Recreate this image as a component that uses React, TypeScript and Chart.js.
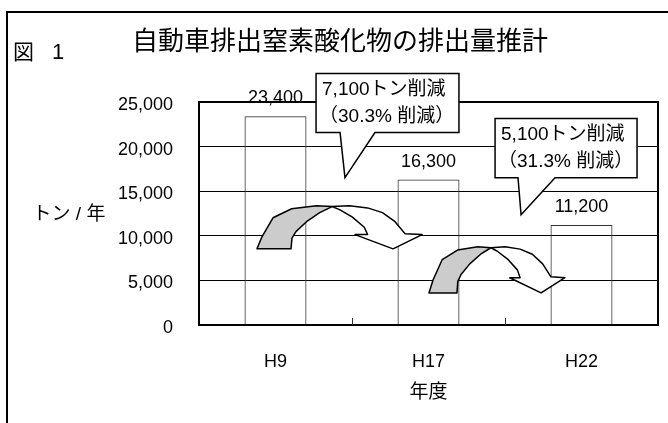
import React, { useEffect, useRef } from 'react';
import { Chart, registerables } from 'chart.js';

Chart.register(...registerables);

// ---- data ----
const categories: string[] = ['H9', 'H17', 'H22'];
const emissions: number[] = [23400, 16300, 11200];
const yMin = 0;
const yMax = 25000;
const yStep = 5000;
const chartTitle = '自動車排出窒素酸化物の排出量推計';
const figureLabel: string[] = ['図', '1'];
const yAxisTitle = 'トン / 年';
const xAxisTitle = '年度';
const reductionTexts: string[][] = [
  ['7,100トン削減', '（30.3% 削減）'],
  ['5,100トン削減', '（31.3% 削減）'],
];

// ---- annotation layout (category index / value space) ----
const calloutLayout = [
  { box: [0.265, 1.199, 28200, 21573], base: [0.422, 0.65], tip: [0.454, 16517] },
  { box: [1.435, 2.363, 23146, 16517], base: [1.585, 1.827], tip: [1.605, 12360] },
];
const arrowLayout = [
  { x: [-0.121, 0.958], y: [13371, 8539] },
  { x: [1.003, 1.892], y: [8764, 3596] },
];
const arrowBack: number[][] = [
  [0, 1], [0.03, 0.72], [0.097, 0.28], [0.21, 0.07], [0.36, 0], [0.455, 0.02],
  [0.38, 0.16], [0.3, 0.37], [0.236, 0.6], [0.212, 0.75], [0.206, 1],
];
const arrowFront: number[][] = [
  [0.455, 0.02], [0.56, 0], [0.67, 0.05], [0.76, 0.16], [0.836, 0.37], [0.897, 0.65],
  [1, 0.67], [0.824, 1], [0.594, 0.67], [0.67, 0.67], [0.65, 0.5], [0.576, 0.26], [0.5, 0.09],
];

const FONT = "'Liberation Sans', 'Noto Sans CJK JP', sans-serif";

const decorPlugin = {
  id: 'decor',
  afterDraw(chart: any) {
    const ctx: CanvasRenderingContext2D = chart.ctx;
    const xs = chart.scales.x;
    const ys = chart.scales.y;
    const ca = chart.chartArea;
    ctx.save();

    // outer frame
    ctx.strokeStyle = '#000';
    ctx.lineWidth = 2;
    ctx.beginPath();
    ctx.moveTo(7, chart.height);
    ctx.lineTo(7, 12);
    ctx.lineTo(chart.width, 12);
    ctx.stroke();

    // titles
    ctx.fillStyle = '#000';
    ctx.textBaseline = 'middle';
    ctx.textAlign = 'center';
    ctx.font = `26px ${FONT}`;
    ctx.fillText(chartTitle, 340, 43);
    ctx.textAlign = 'left';
    ctx.font = `21px ${FONT}`;
    ctx.fillText(figureLabel[0], 13, 53);
    ctx.font = `22px ${FONT}`;
    ctx.fillText(figureLabel[1], 52, 53);
    ctx.textAlign = 'center';
    ctx.font = `19px ${FONT}`;
    ctx.fillText(yAxisTitle, 69, 215);
    ctx.fillText(xAxisTitle, (ca.left + ca.right) / 2, 393);

    // plot top/right border
    ctx.lineWidth = 2;
    ctx.beginPath();
    ctx.moveTo(ca.left, ca.top);
    ctx.lineTo(ca.right, ca.top);
    ctx.lineTo(ca.right, ca.bottom);
    ctx.stroke();

    // category boundary ticks (inside)
    ctx.lineWidth = 1;
    ctx.strokeStyle = '#333';
    for (let i = 1; i < categories.length; i++) {
      const px = Math.round((xs.getPixelForValue(i - 1) + xs.getPixelForValue(i)) / 2) + 0.5;
      ctx.beginPath();
      ctx.moveTo(px, ca.bottom);
      ctx.lineTo(px, ca.bottom - 7);
      ctx.stroke();
    }

    // data labels
    ctx.fillStyle = '#000';
    ctx.font = `18px ${FONT}`;
    ctx.textAlign = 'center';
    ctx.textBaseline = 'middle';
    const meta = chart.getDatasetMeta(0);
    meta.data.forEach((bar: any, i: number) => {
      ctx.fillText(emissions[i].toLocaleString('en-US'), bar.x, bar.y - 18);
    });

    // curved arrows
    ctx.strokeStyle = '#000';
    ctx.lineWidth = 1.5;
    ctx.lineJoin = 'round';
    arrowLayout.forEach((a) => {
      const x0 = xs.getPixelForValue(a.x[0]);
      const x1 = xs.getPixelForValue(a.x[1]);
      const y0 = ys.getPixelForValue(a.y[0]);
      const y1 = ys.getPixelForValue(a.y[1]);
      const poly = (pts: number[][], fill: string) => {
        ctx.beginPath();
        pts.forEach(([u, v], k) => {
          const px = x0 + u * (x1 - x0);
          const py = y0 + v * (y1 - y0);
          if (k === 0) ctx.moveTo(px, py);
          else ctx.lineTo(px, py);
        });
        ctx.closePath();
        ctx.fillStyle = fill;
        ctx.fill();
        ctx.stroke();
      };
      poly(arrowBack, '#cccccc');
      poly(arrowFront, '#ffffff');
    });

    // callouts
    ctx.lineJoin = 'miter';
    calloutLayout.forEach((c, idx) => {
      const l = xs.getPixelForValue(c.box[0]);
      const r = xs.getPixelForValue(c.box[1]);
      const t = ys.getPixelForValue(c.box[2]);
      const b = ys.getPixelForValue(c.box[3]);
      const bl = xs.getPixelForValue(c.base[0]);
      const br = xs.getPixelForValue(c.base[1]);
      const tx = xs.getPixelForValue(c.tip[0]);
      const ty = ys.getPixelForValue(c.tip[1]);
      ctx.beginPath();
      ctx.moveTo(l, t);
      ctx.lineTo(r, t);
      ctx.lineTo(r, b);
      ctx.lineTo(br, b);
      ctx.lineTo(tx, ty);
      ctx.lineTo(bl, b);
      ctx.lineTo(l, b);
      ctx.closePath();
      ctx.fillStyle = '#fff';
      ctx.fill();
      ctx.lineWidth = 1.5;
      ctx.strokeStyle = '#000';
      ctx.stroke();
      ctx.fillStyle = '#000';
      ctx.font = `19px ${FONT}`;
      ctx.textAlign = 'left';
      ctx.textBaseline = 'middle';
      const lines = reductionTexts[idx];
      const lh = 27;
      const mid = (t + b) / 2;
      lines.forEach((s, k) => {
        const indent = s.startsWith('（') ? -3 : 0;
        ctx.fillText(s, l + 6 + indent, mid + (k - (lines.length - 1) / 2) * lh);
      });
    });

    ctx.restore();
  },
};

export default function App() {
  const ref = useRef<HTMLCanvasElement | null>(null);
  useEffect(() => {
    if (!ref.current) return;
    const chart = new Chart(ref.current, {
      type: 'bar',
      data: {
        labels: categories,
        datasets: [
          {
            data: emissions,
            backgroundColor: 'rgba(255,255,255,0)',
            borderColor: '#333',
            borderWidth: 1,
            barPercentage: 0.405,
            categoryPercentage: 1,
          },
        ],
      },
      options: {
        responsive: false,
        animation: false,
        layout: { padding: { top: 102, right: 10, left: 0, bottom: 0 } },
        plugins: {
          legend: { display: false },
          tooltip: { enabled: false },
          title: { display: false },
        },
        scales: {
          x: {
            offset: true,
            grid: { display: false, drawTicks: false },
            border: { display: true, color: '#000', width: 2 },
            ticks: { color: '#000', font: { family: FONT, size: 18 }, padding: 26 },
            afterFit: (s: any) => {
              s.height = 98;
            },
          },
          y: {
            min: yMin,
            max: yMax,
            grid: { color: '#000', lineWidth: 1, drawTicks: false },
            border: { display: true, color: '#000', width: 2 },
            ticks: {
              stepSize: yStep,
              color: '#000',
              font: { family: FONT, size: 18 },
              padding: 26,
              labelOffset: 3,
              callback: (v: any) => Number(v).toLocaleString('en-US'),
            },
            afterFit: (s: any) => {
              s.width = 199;
            },
          },
        },
      },
      plugins: [decorPlugin],
    });
    return () => chart.destroy();
  }, []);
  return (
    <div style={{ position: 'absolute', left: 0, top: 0, width: 668, height: 423, background: '#fff' }}>
      <canvas ref={ref} width={668} height={423} style={{ display: 'block' }} />
    </div>
  );
}
